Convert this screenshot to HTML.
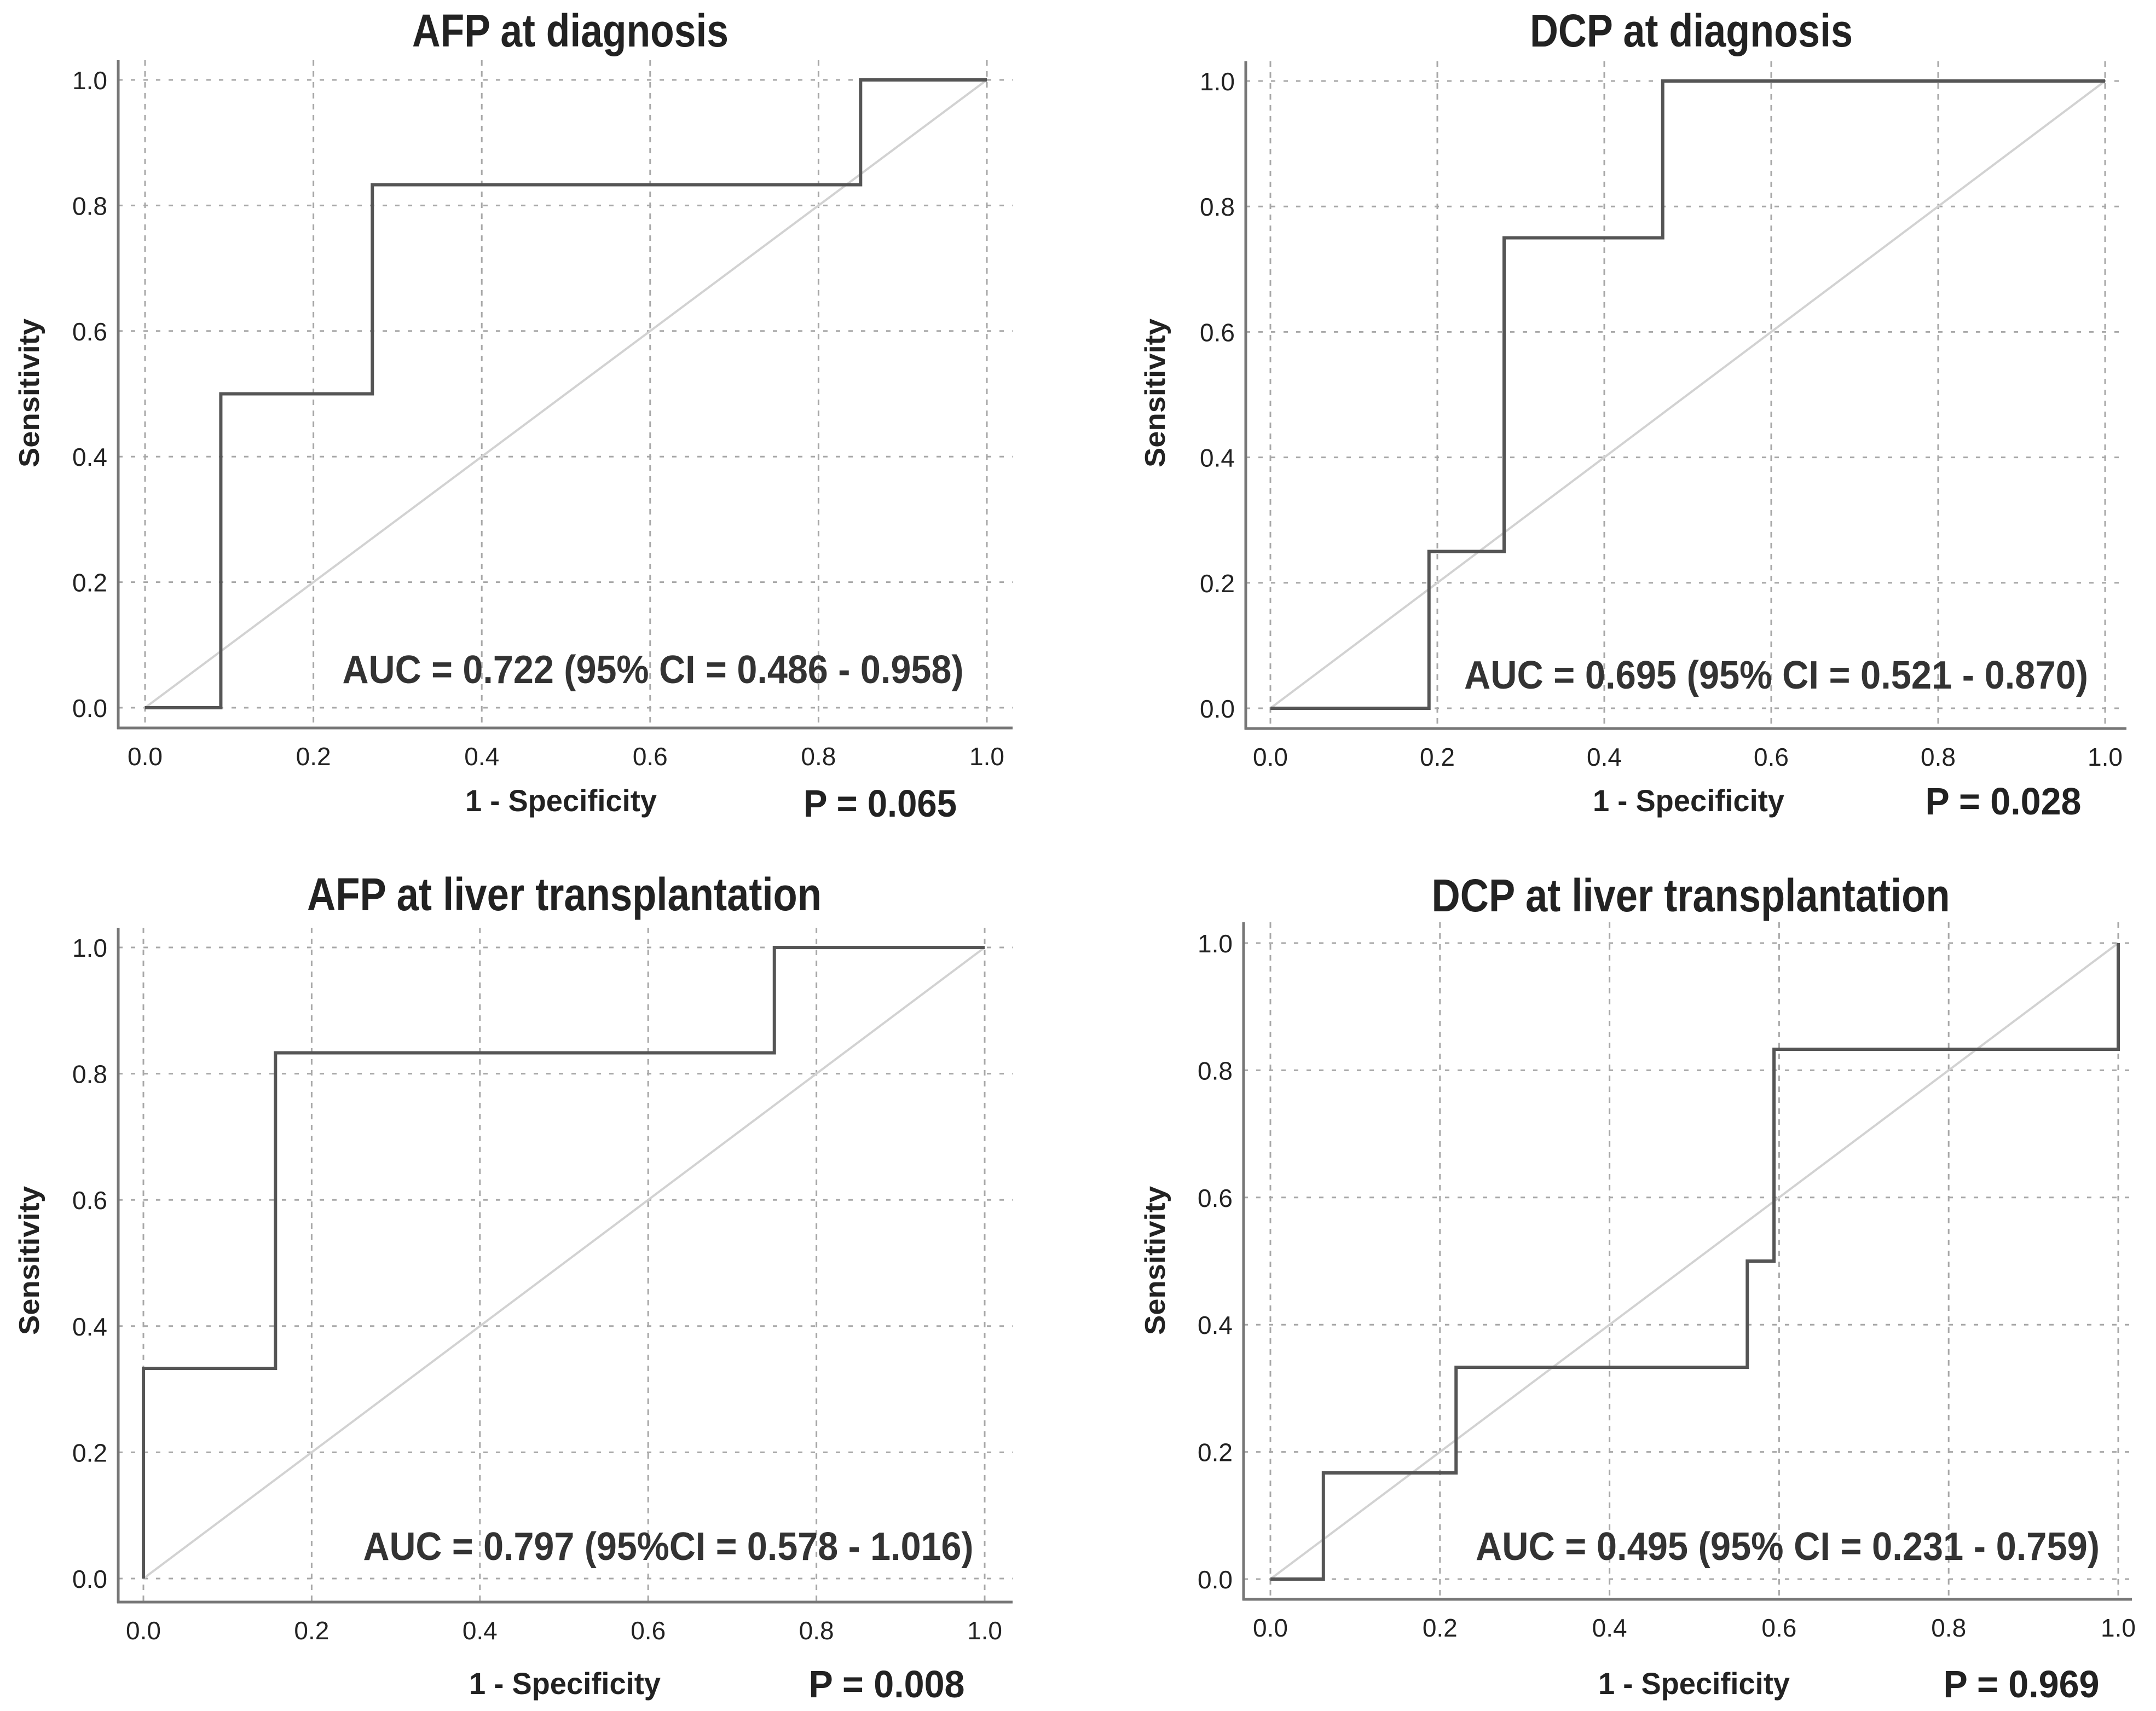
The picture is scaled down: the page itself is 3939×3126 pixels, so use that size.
<!DOCTYPE html>
<html><head><meta charset="utf-8">
<style>
html,body{margin:0;padding:0;background:#fff;}
svg{display:block;font-family:"Liberation Sans",Arial,sans-serif;}
</style></head>
<body>
<svg id="chart" width="3939" height="3126" viewBox="0 0 3939 3126" xmlns="http://www.w3.org/2000/svg"></svg>
<script>
const ticks = [0, 0.2, 0.4, 0.6, 0.8, 1.0];
const tickLabels = ["0.0","0.2","0.4","0.6","0.8","1.0"];
const titles = ["AFP at diagnosis","DCP at diagnosis","AFP at liver transplantation","DCP at liver transplantation"];
const aucTexts = ["AUC = 0.722 (95% CI = 0.486 - 0.958)","AUC = 0.695 (95% CI = 0.521 - 0.870)","AUC = 0.797 (95%CI = 0.578 - 1.016)","AUC = 0.495 (95% CI = 0.231 - 0.759)"];
const pTexts = ["P = 0.065","P = 0.028","P = 0.008","P = 0.969"];
const fprAfpDx = [0,0.09,0.09,0.27,0.27,0.85,0.85,1];
const tprAfpDx = [0,0,0.5,0.5,0.833,0.833,1,1];
const fprDcpDx = [0,0.19,0.19,0.28,0.28,0.47,0.47,1];
const tprDcpDx = [0,0,0.25,0.25,0.75,0.75,1,1];
const fprAfpLt = [0,0,0.157,0.157,0.75,0.75,1];
const tprAfpLt = [0,0.333,0.333,0.833,0.833,1,1];
const fprDcpLt = [0,0.0625,0.0625,0.219,0.219,0.5625,0.5625,0.594,0.594,1,1];
const tprDcpLt = [0,0,0.167,0.167,0.333,0.333,0.5,0.5,0.833,0.833,1];
const fprs=[fprAfpDx,fprDcpDx,fprAfpLt,fprDcpLt];
const tprs=[tprAfpDx,tprDcpDx,tprAfpLt,tprDcpLt];

const NS="http://www.w3.org/2000/svg";
const svg=document.getElementById('chart');
function mk(tag,attrs,parent){const e=document.createElementNS(NS,tag);for(const k in attrs)e.setAttribute(k,attrs[k]);(parent||svg).appendChild(e);return e;}

const layouts=[
 {ax:216,x0:265,x1:1803,y1:146,y0:1293,top:110,bot:1330,right:1850,title:[1042,55],tw:578,auc:[1193,1220],spec:[1025,1462],p:[1608,1466],sens:[53,718],w:[1135,350,280]},
 {ax:2276,x0:2321,x1:3846,y1:148,y0:1294,top:112,bot:1331,right:3885,title:[3090,55],tw:590,auc:[3245,1230],spec:[3085,1462],p:[3660,1462],sens:[2110,718],w:[1140,350,285]},
 {ax:216,x0:262,x1:1799,y1:1731,y0:2884,top:1695,bot:2927,right:1850,title:[1031,1633],tw:940,auc:[1221,2822],spec:[1032,3075],p:[1620,3075],sens:[53,2303],w:[1115,350,285]},
 {ax:2272,x0:2321,x1:3870,y1:1723,y0:2885,top:1685,bot:2922,right:3895,title:[3089,1635],tw:947,auc:[3266,2822],spec:[3095,3075],p:[3693,3075],sens:[2110,2303],w:[1140,350,285]}
];
const names=["afp-diagnosis","dcp-diagnosis","afp-transplant","dcp-transplant"];

layouts.forEach((L,i)=>{
  const g=mk('g',{});
  
  
  const sx=v=>L.x0+v*(L.x1-L.x0);
  const sy=v=>L.y0-v*(L.y0-L.y1);
  ticks.forEach((t,j)=>{
    const vl=mk('line',{x1:sx(t),x2:sx(t),y1:L.top,y2:L.bot,stroke:'#a8a8a8','stroke-width':3,'stroke-dasharray':'10 10'},g);
    
    
    const hl=mk('line',{x1:L.ax,x2:L.right,y1:sy(t),y2:sy(t),stroke:'#a8a8a8','stroke-width':3,'stroke-dasharray':'8 15'},g);
    
    
    const xl=mk('text',{x:sx(t),y:L.bot+68,'font-size':46,'text-anchor':'middle',fill:'#222'},g);
    xl.textContent=tickLabels[j];
    
    
    const yl=mk('text',{x:L.ax-20,y:sy(t)+17,'font-size':46,'text-anchor':'end',fill:'#222'},g);
    yl.textContent=tickLabels[j];
    
    
  });
  const ya=mk('line',{x1:L.ax,x2:L.ax,y1:L.top,y2:L.bot+2,stroke:'#777','stroke-width':5},g);
  
  
  const xa=mk('line',{x1:L.ax-2,x2:L.right,y1:L.bot,y2:L.bot,stroke:'#777','stroke-width':5},g);
  
  
  const dg=mk('line',{x1:sx(0),y1:sy(0),x2:sx(1),y2:sy(1),stroke:'#d2d2d2','stroke-width':4},g);
  
  
  const pts=fprs[i].map((f,k)=>sx(f)+','+sy(tprs[i][k])).join(' ');
  const pl=mk('polyline',{points:pts,fill:'none',stroke:'#555','stroke-width':6,'stroke-linejoin':'miter'},g);
  
  
  const tt=mk('text',{x:L.title[0],y:L.title[1]+30,'font-size':84,'font-weight':'bold','text-anchor':'middle',fill:'#222',textLength:L.tw,lengthAdjust:'spacingAndGlyphs'},g);
  tt.textContent=titles[i];
  
  
  const at=mk('text',{x:L.auc[0],y:L.auc[1]+28,'font-size':72,'font-weight':'bold','text-anchor':'middle',fill:'#333',textLength:L.w[0],lengthAdjust:'spacingAndGlyphs'},g);
  at.textContent=aucTexts[i];
  
  
  const st=mk('text',{x:L.spec[0],y:L.spec[1]+20,'font-size':56,'font-weight':'bold','text-anchor':'middle',fill:'#222',textLength:L.w[1],lengthAdjust:'spacingAndGlyphs'},g);
  st.textContent='1 - Specificity';
  
  
  const pt=mk('text',{x:L.p[0],y:L.p[1]+26,'font-size':70,'font-weight':'bold','text-anchor':'middle',fill:'#222',textLength:L.w[2],lengthAdjust:'spacingAndGlyphs'},g);
  pt.textContent=pTexts[i];
  
  
  const se=mk('text',{x:L.sens[0],y:L.sens[1],'font-size':52,'font-weight':'bold','text-anchor':'middle',fill:'#222',transform:'rotate(-90 '+L.sens[0]+' '+L.sens[1]+')',dy:18,textLength:272,lengthAdjust:'spacingAndGlyphs'},g);
  se.textContent='Sensitivity';
  
  
});
</script>
</body></html>
